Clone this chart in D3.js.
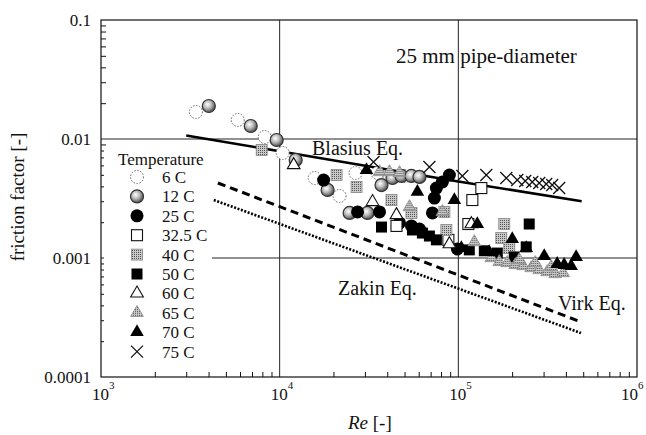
<!DOCTYPE html>
<html><head><meta charset="utf-8">
<script src="https://cdn.jsdelivr.net/npm/d3@7"></script>
<style>body{margin:0;background:#fff}svg{display:block}text{font-family:"Liberation Serif","Times New Roman",serif;fill:#111}</style>
</head><body><svg id="c" width="646" height="435"></svg>
<script>
// ---- data (Re, fanning friction factor) ----
const yTickValues = [1e-4, 1e-3, 1e-2, 1e-1];
const yTickLabels = ["0.0001", "0.001", "0.01", "0.1"];
const xTickValues = [1e3, 1e4, 1e5, 1e6];
const xTickExponents = ["3", "4", "5", "6"];

const blasius = [[3000, 0.0107], [10000, 0.0079], [100000, 0.0044], [490000, 0.0030]];
const virk = [[4510, 0.00427], [486000, 0.00029]];
const zakin = [[4280, 0.00307], [486000, 0.000234]];

const seriesNames = ["6 C", "12 C", "25 C", "32.5 C", "40 C", "50 C", "60 C", "65 C", "70 C", "75 C"];
const seriesMarkers = ["dotcircle", "shadecircle", "blackcircle", "opensquare", "hatchsquare", "blacksquare", "opentri", "hatchtri", "blacktri", "cross"];

const s6C = [[3396,0.01686],[5825,0.01445],[8245,0.01039],[10390,0.00763],[15700,0.00470],[21640,0.00332],[26590,0.00518],[35290,0.00518],[41170,0.00489],[49940,0.00489]];
const s12C = [[4013,0.01893],[6887,0.01286],[9623,0.00981],[12290,0.00666],[18550,0.00373],[24620,0.00239],[31010,0.00239],[37150,0.00410],[42800,0.00470],[48060,0.00489],[54660,0.00489],[60580,0.00480]];
const s25C = [[17620,0.00452],[27290,0.00244],[36220,0.00244],[46850,0.00197],[54660,0.00186],[60580,0.00175],[71610,0.00239],[73460,0.00319],[75370,0.00387],[81440,0.00435],[89130,0.00498],[98760,0.00119]];
const s32C = [[134500,0.00387],[119800,0.00307],[113800,0.00193],[87950,0.00142],[45060,0.00186]];
const s40C = [[7934,0.00809],[20820,0.00498],[26940,0.00395],[42250,0.00307],[54660,0.00239],[85700,0.00172],[180800,0.00193],[173900,0.00147],[83560,0.00244],[192800,0.00121]];
const s50C = [[37150,0.00182],[55360,0.00172],[62950,0.00162],[68880,0.00153],[75370,0.00142],[249300,0.00193],[239900,0.00124],[205600,0.00102],[115200,0.00117],[139800,0.00115],[165200,0.00110]];
const s60C = [[11980,0.00605],[33090,0.00296],[45060,0.00230],[118300,0.00193],[89130,0.00131]];
const s65C = [[36220,0.00528],[41170,0.00528],[46850,0.00518],[53260,0.00268],[81440,0.00244],[122900,0.00136],[152900,0.00100],[169500,0.000926],[187900,0.000908],[208300,0.000874],[230800,0.000857],[255900,0.000824],[283600,0.000793],[314300,0.000763],[348400,0.000734],[386200,0.000748],[219300,0.000962],[269400,0.000908],[331000,0.000840]];
const s70C = [[30620,0.00549],[59020,0.00359],[95020,0.00307],[127700,0.00193],[200300,0.00144],[239900,0.00121],[302600,0.00104],[357500,0.000891],[391100,0.000874],[456300,0.00102],[428000,0.000857],[104000,0.00121],[149000,0.00112]];
const s75C = [[33520,0.00641],[68880,0.00582],[105300,0.00489],[143400,0.00498],[185500,0.00470],[213700,0.00452],[236800,0.00444],[259200,0.00435],[283600,0.00427],[310300,0.00419],[335200,0.00410],[366800,0.00387]];
const allSeries = [s6C, s12C, s25C, s32C, s40C, s50C, s60C, s65C, s70C, s75C];

// ---- drawing ----
const svg = d3.select("#c");
const L = 101, R = 637, T = 20, B = 377;
const x = d3.scaleLog().domain([1e3, 1e6]).range([L, R]);
const y = d3.scaleLog().domain([1e-4, 1e-1]).range([B, T]);

const defs = svg.append("defs");
const rg = defs.append("radialGradient").attr("id", "shade").attr("cx", "40%").attr("cy", "38%").attr("r", "65%");
rg.append("stop").attr("offset", "0%").attr("stop-color", "#fff");
rg.append("stop").attr("offset", "45%").attr("stop-color", "#bbb");
rg.append("stop").attr("offset", "100%").attr("stop-color", "#444");
const pat = defs.append("pattern").attr("id", "hatch").attr("width", 2).attr("height", 2).attr("patternUnits", "userSpaceOnUse");
pat.append("rect").attr("width", 2).attr("height", 2).attr("fill", "#c8c8c8");
pat.append("rect").attr("width", 1).attr("height", 1).attr("fill", "#555");

// gridlines
const grid = svg.append("g").attr("stroke", "#222").attr("stroke-width", 1);
[1e4, 1e5].forEach(v => grid.append("line").attr("x1", x(v)).attr("x2", x(v)).attr("y1", T).attr("y2", B));
[1e-3, 1e-2].forEach(v => grid.append("line").attr("x1", L).attr("x2", R).attr("y1", y(v)).attr("y2", y(v)));
// frame
svg.append("rect").attr("x", L).attr("y", T).attr("width", R - L).attr("height", B - T).attr("fill", "none").attr("stroke", "#111").attr("stroke-width", 1.2);

// minor ticks
const yMinor = [];
for (let d = -4; d < -1; d++) for (let k = 2; k <= 9; k++) yMinor.push(k * Math.pow(10, d));
const xMinor = [];
for (let d = 3; d < 6; d++) for (let k = 2; k <= 9; k++) xMinor.push(k * Math.pow(10, d));
svg.append("g").attr("transform", `translate(${L},0)`)
  .call(d3.axisLeft(y).tickValues(yMinor).tickSize(-5).tickFormat(""))
  .call(g => { g.select(".domain").remove(); g.selectAll("line").attr("stroke", "#111"); });
svg.append("g").attr("transform", `translate(0,${B})`)
  .call(d3.axisBottom(x).tickValues(xMinor).tickSize(-5).tickFormat(""))
  .call(g => { g.select(".domain").remove(); g.selectAll("line").attr("stroke", "#111"); });

// y labels
svg.append("g").attr("transform", `translate(${L},0)`)
  .call(d3.axisLeft(y).tickValues(yTickValues).tickSize(0).tickPadding(10).tickFormat((d, i) => yTickLabels[i]))
  .call(g => { g.select(".domain").remove(); g.selectAll("text").attr("font-size", 17).attr("font-family", "Liberation Serif").attr("fill", "#111"); });

// x labels with superscript
xTickValues.forEach((v, i) => {
  const px = Math.min(x(v) - 9, 621);
  const t = svg.append("text").attr("x", px).attr("y", 400).attr("font-size", 17).attr("text-anchor", "start");
  t.append("tspan").text("10");
  t.append("tspan").attr("dy", -11).attr("font-size", 11).text(xTickExponents[i]);
});

// axis titles
const xt = svg.append("text").attr("x", 348).attr("y", 429).attr("font-size", 19);
xt.append("tspan").attr("font-style", "italic").text("Re");
xt.append("tspan").text(" [-]");
svg.append("text").attr("transform", "translate(24,197) rotate(-90)").attr("text-anchor", "middle").attr("font-size", 19).text("friction factor [-]");

// equation lines
const line = d3.line().x(d => x(d[0])).y(d => y(d[1]));
svg.append("path").datum(blasius).attr("d", line).attr("fill", "none").attr("stroke", "#000").attr("stroke-width", 2.6);
svg.append("path").datum(virk).attr("d", line).attr("fill", "none").attr("stroke", "#000").attr("stroke-width", 3).attr("stroke-dasharray", "8,5");
svg.append("path").datum(zakin).attr("d", line).attr("fill", "none").attr("stroke", "#000").attr("stroke-width", 2.6).attr("stroke-dasharray", "2,1.6");

// markers
function marker(g, type, cx, cy) {
  switch (type) {
    case "dotcircle": g.append("circle").attr("cx", cx).attr("cy", cy).attr("r", 6.5).attr("fill", "#fff").attr("stroke", "#666").attr("stroke-width", 1).attr("stroke-dasharray", "1.5,1.5"); break;
    case "shadecircle": g.append("circle").attr("cx", cx).attr("cy", cy).attr("r", 6.5).attr("fill", "url(#shade)").attr("stroke", "#333").attr("stroke-width", 1.2); break;
    case "blackcircle": g.append("circle").attr("cx", cx).attr("cy", cy).attr("r", 6.5).attr("fill", "#000"); break;
    case "opensquare": g.append("rect").attr("x", cx - 5.5).attr("y", cy - 5.5).attr("width", 11).attr("height", 11).attr("fill", "#fff").attr("stroke", "#111").attr("stroke-width", 1.1); break;
    case "hatchsquare": g.append("rect").attr("x", cx - 5.5).attr("y", cy - 5.5).attr("width", 11).attr("height", 11).attr("fill", "url(#hatch)").attr("stroke", "#888").attr("stroke-width", 0.8); break;
    case "blacksquare": g.append("rect").attr("x", cx - 5.5).attr("y", cy - 5.5).attr("width", 11).attr("height", 11).attr("fill", "#000"); break;
    case "opentri": g.append("path").attr("transform", `translate(${cx},${cy})`).attr("d", d3.symbol(d3.symbolTriangle, 70)()).attr("fill", "#fff").attr("stroke", "#111").attr("stroke-width", 1.1); break;
    case "hatchtri": g.append("path").attr("transform", `translate(${cx},${cy})`).attr("d", d3.symbol(d3.symbolTriangle, 70)()).attr("fill", "url(#hatch)").attr("stroke", "#888").attr("stroke-width", 0.8); break;
    case "blacktri": g.append("path").attr("transform", `translate(${cx},${cy})`).attr("d", d3.symbol(d3.symbolTriangle, 80)()).attr("fill", "#000"); break;
    case "cross": g.append("path").attr("d", `M${cx-6},${cy-6}L${cx+6},${cy+6}M${cx-6},${cy+6}L${cx+6},${cy-6}`).attr("stroke", "#111").attr("stroke-width", 1.3).attr("fill", "none"); break;
  }
}
const pts = svg.append("g");
allSeries.forEach((s, i) => s.forEach(d => marker(pts, seriesMarkers[i], x(d[0]), y(d[1]))));

// annotations
svg.append("text").attr("x", 396).attr("y", 63).attr("font-size", 21).text("25 mm pipe-diameter");
svg.append("text").attr("x", 312).attr("y", 155).attr("font-size", 20).text("Blasius Eq.");
svg.append("text").attr("x", 338).attr("y", 295).attr("font-size", 20).text("Zakin Eq.");
svg.append("text").attr("x", 558).attr("y", 310).attr("font-size", 20).text("Virk Eq.");

// legend
const lg = svg.append("g");
lg.append("rect").attr("x", 104).attr("y", 148).attr("width", 108).attr("height", 214).attr("fill", "#fff");
lg.append("text").attr("x", 118).attr("y", 165).attr("font-size", 17).text("Temperature");
seriesNames.forEach((n, i) => {
  const ry = 177 + i * 19.4;
  marker(lg, seriesMarkers[i], 137, ry);
  lg.append("text").attr("x", 162).attr("y", ry + 6).attr("font-size", 17).text(n);
});
</script></body></html>
